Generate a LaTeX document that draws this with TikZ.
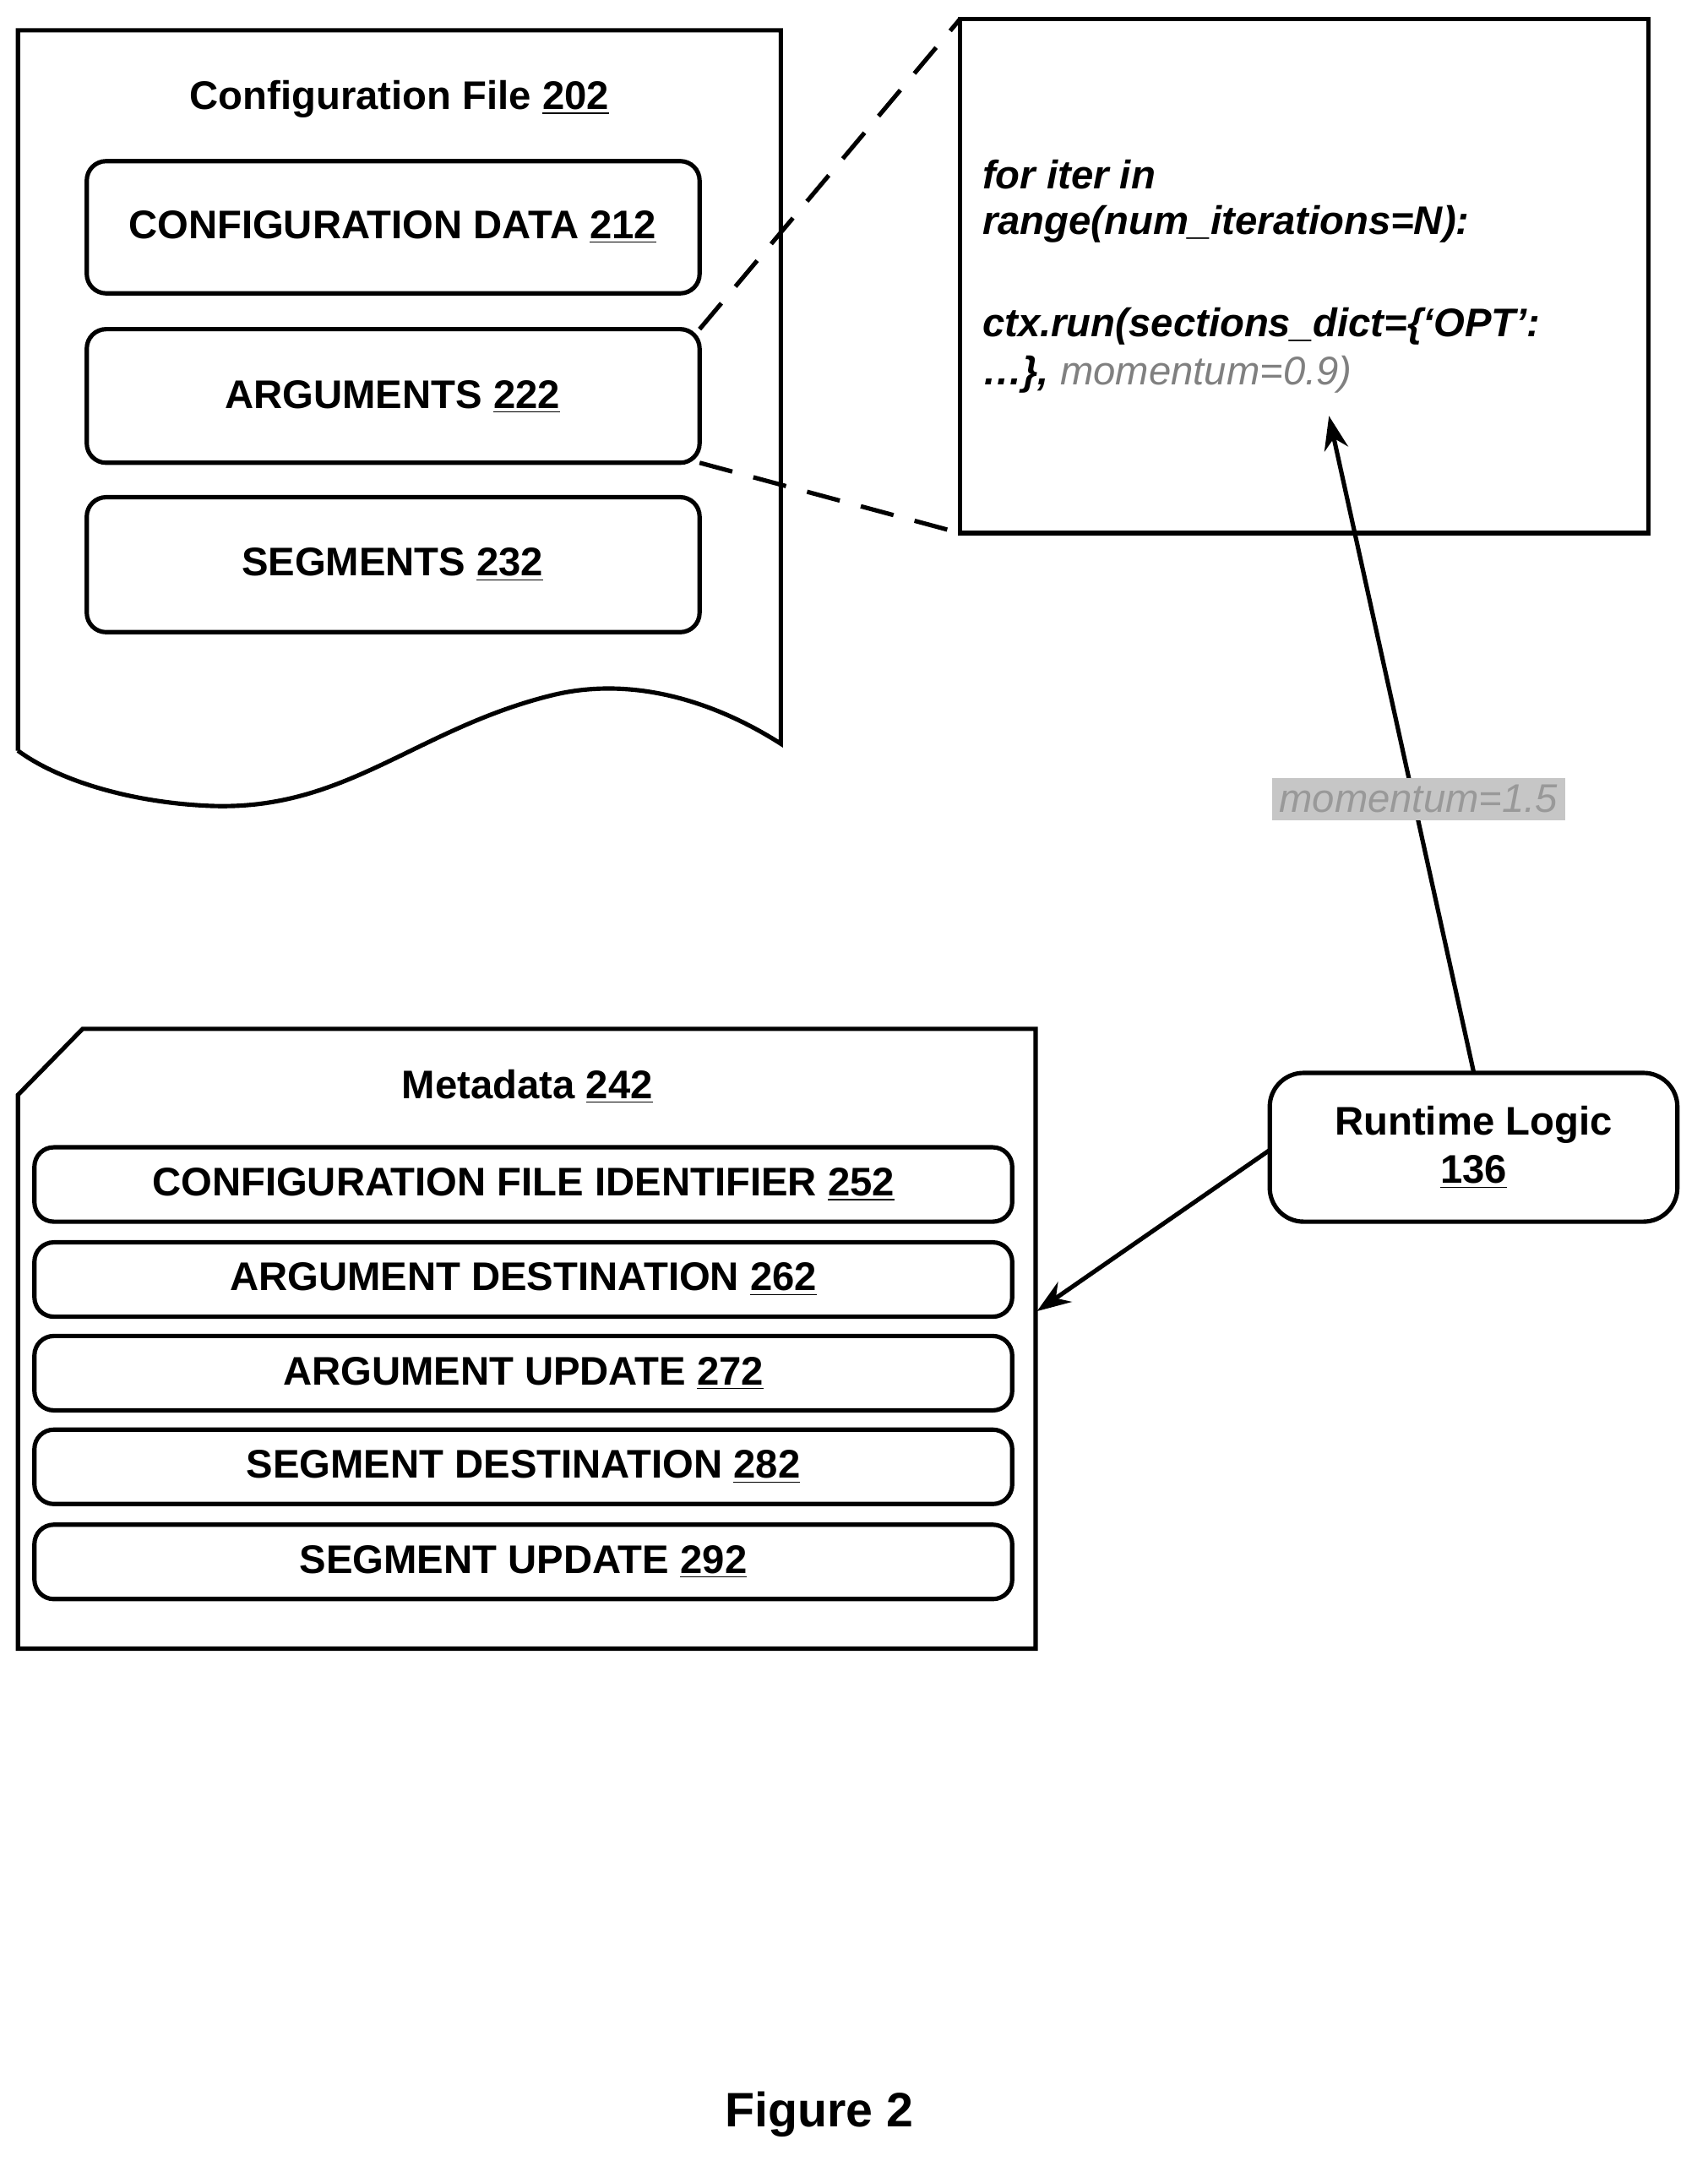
\documentclass[tikz,border=0pt]{standalone}
\usepackage{fontspec}
\setmainfont{Liberation Sans}
\usetikzlibrary{arrows.meta}
\begin{document}
\begin{tikzpicture}[x=0.02cm,y=-0.02cm,line width=1.8pt,
 box/.style={draw,rounded corners=8pt},
 lbl/.style={font=\fontsize{16.5}{20}\selectfont\bfseries},
 code/.style={font=\fontsize{16.5}{20}\selectfont\bfseries\itshape,anchor=west}]
\useasboundingbox (0,0) rectangle (1240,1577);
% config file
\draw (13,545) -- (13,22) -- (567,22) -- (567,540) .. controls (520,510) and (460,490) .. (400,505) .. controls (300,530) and (250,590) .. (150,585) .. controls (90,582) and (40,565) .. (13,545);
\node[lbl] (cft) at (290,72) {Configuration File \underline{202}};
\draw[box] (63,117) rectangle (508,213); \node[lbl] (cd) at (285,165) {CONFIGURATION DATA \underline{212}};
\draw[box] (63,239) rectangle (508,336); \node[lbl] (ar) at (285,288) {ARGUMENTS \underline{222}};
\draw[box] (63,361) rectangle (508,459); \node[lbl] (sg) at (285,410) {SEGMENTS \underline{232}};
% code box
\draw (697,14) rectangle (1197,387);
\draw[dashed,dash pattern=on 14pt off 9pt] (508,239) -- (697,14) (508,336) -- (697,387);
\node[code] (c1) at (706,127) {for iter in};
\node[code] (c2) at (706,163) {range(num\_iterations=N):};
\node[code] (c3) at (706,237) {ctx.run(sections\_dict=\{‘OPT’:};
\node[code] (c4) at (706,272) {…\}, \textcolor{gray}{\mdseries momentum=0.9)}};
% runtime logic
\draw[box,rounded corners=14pt] (922,779) rectangle (1218,887);
\node[lbl,align=center] (rl) at (1070,833) {Runtime Logic\\\underline{136}};
\coordinate (rt) at (1070,778); \coordinate (ct) at (965,302);
\draw[-{Stealth[length=14pt,width=10pt]}] (rt) -- (ct);
\node[fill=gray!45,inner sep=3pt,font=\fontsize{16.5}{20}\selectfont\itshape,text=gray!80] (mo) at (1030,580) {momentum=1.5};
\coordinate (rl2) at (922,835); \coordinate (md) at (753,952);
\draw[-{Stealth[length=14pt,width=10pt]}] (rl2) -- (md);
% metadata
\draw (13,795) -- (60,747) -- (752,747) -- (752,1197) -- (13,1197) -- cycle;
\node[lbl] (mt) at (383,789) {Metadata \underline{242}};
\foreach \y/\t in {833/CONFIGURATION FILE IDENTIFIER \underline{252},902/ARGUMENT DESTINATION \underline{262},970/ARGUMENT UPDATE \underline{272},1038/SEGMENT DESTINATION \underline{282},1107/SEGMENT UPDATE \underline{292}}{
 \draw[box] (25,\y) rectangle (735,\y+54);
 \node[lbl] at (380,\y+27) {\t};}
\node[font=\fontsize{20}{24}\selectfont\bfseries] (fig) at (595,1535) {Figure 2};
\end{tikzpicture}
\end{document}
